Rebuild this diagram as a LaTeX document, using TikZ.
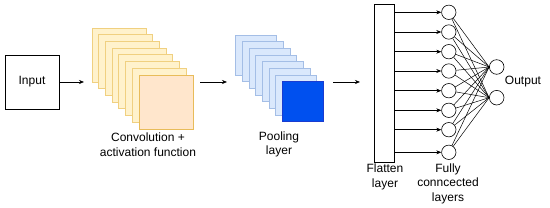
\documentclass[tikz,border=0pt]{standalone}
\usepackage{fontspec}
\setmainfont{Liberation Sans}
\usetikzlibrary{arrows.meta}
\definecolor{ylfill}{HTML}{FFF2CC}
\definecolor{ylline}{HTML}{F0D080}
\definecolor{orfill}{HTML}{FFE6CC}
\definecolor{orline}{HTML}{E8BC5A}
\definecolor{blfill}{HTML}{DAE8FC}
\definecolor{blline}{HTML}{A4BEE6}
\definecolor{dbfill}{HTML}{0050EF}
\definecolor{dbline}{HTML}{1A3CD0}
\begin{document}
\begin{tikzpicture}[x=1pt,y=-1pt,
  lbl/.style={font=\fontsize{12}{14.5}\selectfont,align=center,inner sep=0pt},
  arr/.style={-{Stealth[length=5pt,width=4pt]},line width=0.6pt},
  conn/.style={line width=0.5pt},
  neuron/.style={circle,draw,line width=0.6pt,minimum size=14.4pt,inner sep=0pt},
  outn/.style={circle,draw,line width=0.6pt,minimum size=14.6pt,inner sep=0pt}]
\useasboundingbox (0,0) rectangle (550,208);
% Input
\node[draw,line width=0.6pt,minimum width=54pt,minimum height=54pt,inner sep=0pt,lbl] (in) at (32,82) {Input};
\coordinate (a1) at (84,82);
\draw[arr] (in.east) -- (a1);
% Conv stack
\foreach \i in {0,...,6}{
  \fill[ylfill] ({92+6.7*\i},{28+6.7*\i}) rectangle ++(54,54);
  \draw[ylline,line width=0.7pt] ({92+6.7*\i},{28+6.7*\i}) rectangle ++(54,54);
}
\node[draw=orline,fill=orfill,line width=0.8pt,minimum width=54pt,minimum height=54pt,inner sep=0pt] (conv) at (166,102) {};
\node[lbl] (convl) at (148,144.5) {Convolution +\\activation function};
% Arrow 2
\coordinate (b0) at (200,82);
\coordinate (b1) at (227,82);
\draw[arr] (b0) -- (b1);
% Pool stack
\foreach \i in {0,...,6}{
  \fill[blfill] ({235.7+6.67*\i},{35+6.67*\i}) rectangle ++(41,40);
  \draw[blline,line width=0.7pt] ({235.7+6.67*\i},{35+6.67*\i}) rectangle ++(41,40);
}
\node[draw=dbline,fill=dbfill,line width=0.8pt,minimum width=41pt,minimum height=40pt,inner sep=0pt] (pool) at (302.9,101.7) {};
\node[lbl] (pooll) at (279,144.5) {Pooling\\layer};
% Arrow 3
\coordinate (c0) at (333,82);
\coordinate (c1) at (360,82);
\draw[arr] (c0) -- (c1);
% Flatten
\node[draw,line width=0.6pt,minimum width=20pt,minimum height=158pt,inner sep=0pt] (flat) at (384,83) {};
\node[lbl] (flatl) at (385,177) {Flatten\\layer};
% Hidden neurons
\foreach \n/\y in {1/12.3,2/32,3/51.7,4/71,5/90.7,6/110.3,7/129.7,8/152.3}{
  \node[neuron] (h\n) at (448.8,\y) {};
}
\node[outn] (o1) at (496.7,67) {};
\node[outn] (o2) at (496.7,97.7) {};
\foreach \n in {1,...,8}{
  \draw[arr] (flat.east |- h\n) -- (h\n.west);
  \draw[conn] (h\n) -- (o1.west);
  \draw[conn] (h\n) -- (o2.west);
}
\node[lbl] (fcl) at (448,183.5) {Fully\\conncected\\layers};
\node[lbl] (outl) at (523,82) {Output};
\end{tikzpicture}
\end{document}
